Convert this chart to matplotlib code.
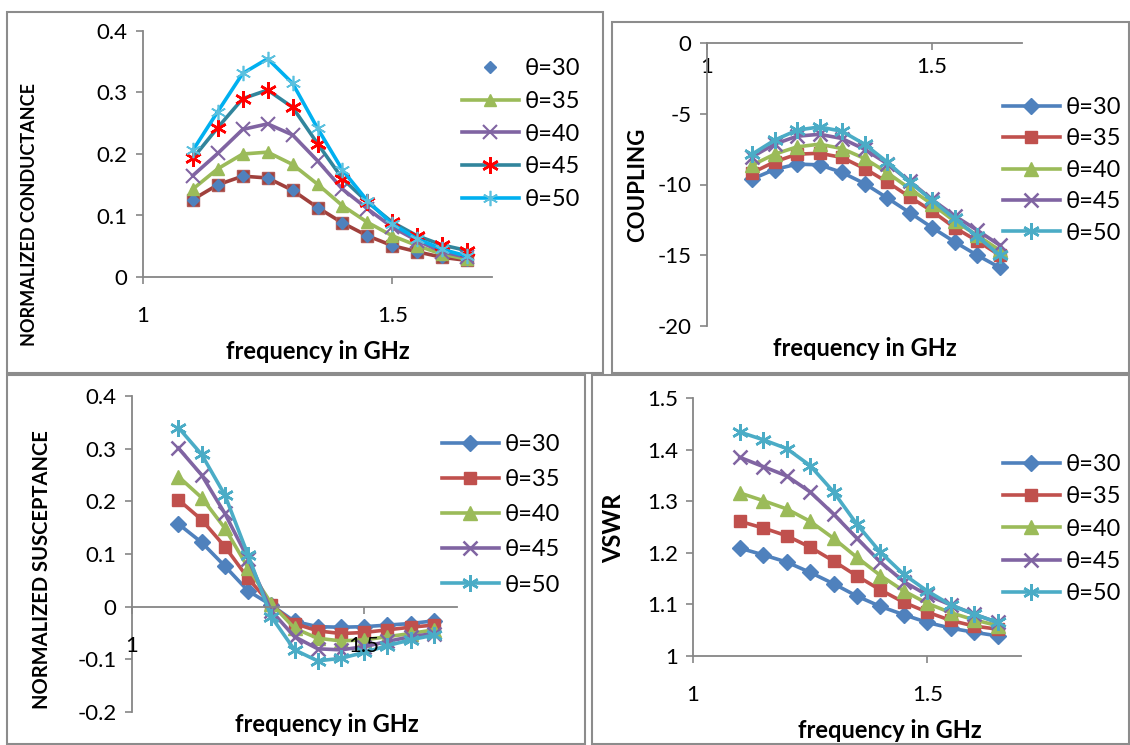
import matplotlib
matplotlib.use("Agg")
import matplotlib.pyplot as plt
from matplotlib.patches import Rectangle
from matplotlib.ticker import FuncFormatter, MultipleLocator

plt.rcParams['font.family'] = ['Lato', 'DejaVu Sans']

# frequency points (GHz)
freq = [1.10, 1.15, 1.20, 1.25, 1.30, 1.35, 1.40, 1.45, 1.50, 1.55, 1.60, 1.65]
labels = ["θ=30", "θ=35", "θ=40", "θ=45", "θ=50"]

# normalized conductance
g30 = [0.126, 0.150, 0.164, 0.161, 0.141, 0.113, 0.088, 0.067, 0.051, 0.041, 0.032, 0.027]
g35 = [0.143, 0.176, 0.200, 0.203, 0.183, 0.151, 0.116, 0.089, 0.067, 0.051, 0.037, 0.029]
g40 = [0.165, 0.201, 0.240, 0.249, 0.231, 0.189, 0.143, 0.111, 0.081, 0.059, 0.041, 0.032]
g45 = [0.193, 0.243, 0.290, 0.304, 0.276, 0.217, 0.160, 0.122, 0.089, 0.067, 0.052, 0.043]
g50 = [0.206, 0.269, 0.331, 0.355, 0.315, 0.242, 0.174, 0.124, 0.086, 0.062, 0.045, 0.034]

# coupling (dB)
c30 = [-9.62, -8.94, -8.56, -8.61, -9.15, -9.93, -10.94, -11.98, -13.04, -14.05, -14.99, -15.86]
c35 = [-9.18, -8.40, -7.86, -7.79, -8.09, -8.87, -9.81, -10.87, -11.88, -13.04, -13.98, -14.99]
c40 = [-8.64, -7.86, -7.34, -7.15, -7.46, -8.16, -9.15, -10.28, -11.39, -12.59, -13.58, -14.64]
c45 = [-8.05, -7.15, -6.59, -6.45, -6.75, -7.51, -8.52, -9.76, -11.06, -12.21, -13.22, -14.28]
c50 = [-7.86, -6.87, -6.16, -5.93, -6.24, -7.15, -8.40, -9.81, -11.11, -12.40, -13.65, -14.99]

# normalized susceptance
b30 = [0.157, 0.122, 0.077, 0.030, 0.003, -0.028, -0.038, -0.039, -0.038, -0.035, -0.032, -0.027]
b35 = [0.203, 0.165, 0.114, 0.054, 0.003, -0.032, -0.046, -0.051, -0.049, -0.044, -0.039, -0.035]
b40 = [0.247, 0.207, 0.149, 0.074, 0.006, -0.041, -0.060, -0.065, -0.063, -0.057, -0.051, -0.044]
b45 = [0.301, 0.250, 0.177, 0.091, -0.008, -0.057, -0.080, -0.082, -0.076, -0.066, -0.057, -0.051]
b50 = [0.340, 0.289, 0.212, 0.098, -0.019, -0.082, -0.103, -0.098, -0.087, -0.074, -0.063, -0.054]

# VSWR
v30 = [1.209, 1.196, 1.182, 1.162, 1.140, 1.116, 1.096, 1.080, 1.065, 1.054, 1.046, 1.039]
v35 = [1.261, 1.248, 1.233, 1.211, 1.184, 1.155, 1.128, 1.104, 1.085, 1.069, 1.058, 1.052]
v40 = [1.316, 1.301, 1.285, 1.261, 1.228, 1.191, 1.156, 1.126, 1.102, 1.084, 1.070, 1.059]
v45 = [1.385, 1.367, 1.349, 1.318, 1.275, 1.228, 1.182, 1.144, 1.118, 1.099, 1.081, 1.065]
v50 = [1.434, 1.419, 1.402, 1.369, 1.318, 1.255, 1.201, 1.158, 1.126, 1.099, 1.081, 1.065]

W, H = 1130, 745
fig = plt.figure(figsize=(W / 100, H / 100), dpi=100)
AXC = "#868686"
TICK_FS = 16
LEG_FS = 17
XLAB_FS = 17

# excel 2007 style
blue, red, green, purple, teal = "#4F81BD", "#C0504D", "#9BBB59", "#8064A2", "#4BACC6"
styles = [(blue, "D", 6.5), (red, "s", 7.5), (green, "^", 8), (purple, "x", 9), (teal, "*", 10)]


def box(l, t, r, b):
    return [l / W, 1 - b / H, (r - l) / W, (b - t) / H]


def fmt(v, pos):
    v = round(v, 6)
    if v == 0:
        return "0"
    return f"{v:g}"


def setup(ax, ylim, ystep, zero_axis=False):
    ax.set_xlim(1, 1.7)
    ax.set_ylim(*ylim)
    ax.xaxis.set_major_locator(MultipleLocator(0.5))
    ax.yaxis.set_major_locator(MultipleLocator(ystep))
    ax.xaxis.set_major_formatter(FuncFormatter(fmt))
    ax.yaxis.set_major_formatter(FuncFormatter(fmt))
    for s in ["top", "right"]:
        ax.spines[s].set_visible(False)
    for s in ["left", "bottom"]:
        ax.spines[s].set_color(AXC)
        ax.spines[s].set_linewidth(1.3)
    if zero_axis:
        ax.spines["bottom"].set_position(("data", 0))
    ax.tick_params(colors=AXC, labelcolor="black", labelsize=TICK_FS, length=5, width=1.2)
    ax.tick_params(axis="x", pad=16 if not zero_axis else 5)
    ax.tick_params(axis="y", pad=6)


def legend(ax, x, y, spacing):
    leg = ax.legend(loc="upper left", bbox_to_anchor=(x / W, 1 - y / H),
                    bbox_transform=fig.transFigure, frameon=False, fontsize=LEG_FS,
                    handlelength=2.4, handletextpad=0.25, labelspacing=spacing,
                    borderaxespad=0, borderpad=0)
    return leg


def frame(l, t, r, b):
    fig.add_artist(Rectangle((l / W, 1 - b / H), (r - l) / W, (b - t) / H,
                             transform=fig.transFigure, fill=False,
                             edgecolor="#8c8c8c", linewidth=1.5))


frame(7, 12, 603, 373)
frame(612, 22, 1129, 373)
frame(7, 375, 585, 744)
frame(592, 375, 1129, 744)

# ---- panel 1: conductance
ax1 = fig.add_axes(box(143, 31, 492, 277))
setup(ax1, (0, 0.4), 0.1)
ax1.plot(freq, g30, color="#A0403C", lw=2.6, marker="s", ms=9, mfc="#A0403C", mec="#B05A57",
         label="_nolegend_")
ax1.plot(freq, g30, color=blue, ls="none", marker="D", ms=6.5, label=labels[0])
ax1.plot(freq, g35, color=green, lw=2.6, marker="^", ms=9, label=labels[1])
ax1.plot(freq, g40, color=purple, lw=2.6, marker="x", ms=10, mew=1.5, label=labels[2])
ax1.plot(freq, g45, color="#31859C", lw=2.6, marker=(6, 2, 0), ms=12, mec="#FF0000", mew=1.8,
         label=labels[3])
ax1.plot(freq, g50, color="#00B0F0", lw=2.6, marker=(6, 2, 0), ms=11, mec="#5BC0DE", mew=1.2,
         label=labels[4])
legend(ax1, 462, 58, 0.5)
fig.text(30 / W, 1 - 215 / H, "NORMALIZED CONDUCTANCE", rotation=90, fontsize=13,
         fontweight="bold", ha="center", va="center")
fig.text(318 / W, 1 - 352 / H, "frequency in GHz", fontsize=XLAB_FS, fontweight="bold",
         ha="center", va="center")

series = {"c": [c30, c35, c40, c45, c50], "b": [b30, b35, b40, b45, b50],
          "v": [v30, v35, v40, v45, v50]}


def draw_std(ax, ys):
    for y, lab, (col, mk, ms) in zip(ys, labels, styles):
        if mk == "*":
            ax.plot(freq, y, color=col, lw=2.6, marker=(6, 2, 0), ms=12, mew=1.8, label=lab)
        elif mk == "x":
            ax.plot(freq, y, color=col, lw=2.6, marker="x", ms=10, mew=1.8, label=lab)
        else:
            ax.plot(freq, y, color=col, lw=2.6, marker=mk, ms=ms + 1.5, label=lab)


# ---- panel 2: coupling
ax2 = fig.add_axes(box(707, 43, 1022, 326))
setup(ax2, (-20, 0), 5, zero_axis=True)
draw_std(ax2, series["c"])
legend(ax2, 1003, 97, 0.44)
fig.text(638 / W, 1 - 185 / H, "COUPLING", rotation=90, fontsize=16, fontweight="bold",
         ha="center", va="center")
fig.text(865 / W, 1 - 349 / H, "frequency in GHz", fontsize=XLAB_FS, fontweight="bold",
         ha="center", va="center")

# ---- panel 3: susceptance
ax3 = fig.add_axes(box(132, 396, 457, 712))
setup(ax3, (-0.2, 0.4), 0.1, zero_axis=True)
ax3.tick_params(axis="x", pad=16)
ax3.set_axisbelow(False)
draw_std(ax3, series["b"])
legend(ax3, 442, 434, 0.6)
fig.text(42 / W, 1 - 570 / H, "NORMALIZED SUSCEPTANCE", rotation=90, fontsize=14.5,
         fontweight="bold", ha="center", va="center")
fig.text(327 / W, 1 - 725 / H, "frequency in GHz", fontsize=XLAB_FS, fontweight="bold",
         ha="center", va="center")

# ---- panel 4: VSWR
ax4 = fig.add_axes(box(693, 398, 1021, 656))
setup(ax4, (1, 1.5), 0.1)
draw_std(ax4, series["v"])
legend(ax4, 1003, 454, 0.48)
fig.text(614 / W, 1 - 528 / H, "VSWR", rotation=90, fontsize=17, fontweight="bold",
         ha="center", va="center")
fig.text(890 / W, 1 - 730 / H, "frequency in GHz", fontsize=XLAB_FS, fontweight="bold",
         ha="center", va="center")

fig.savefig("out.png", dpi=100)
